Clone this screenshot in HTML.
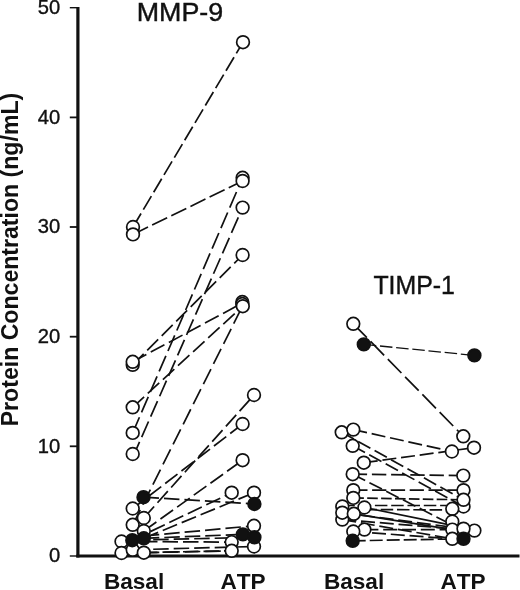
<!DOCTYPE html>
<html><head><meta charset="utf-8"><title>MMP-9 and TIMP-1 protein concentration</title>
<style>
html,body{margin:0;padding:0;background:#fff;}
body{width:520px;height:590px;overflow:hidden;}
svg{display:block;}
text{font-family:"Liberation Sans",Arial,Helvetica,sans-serif;fill:#111;}
</style></head><body>
<svg width="520" height="590" viewBox="0 0 520 590">
<rect width="520" height="590" fill="#fff"/>
<line x1="77.9" y1="7" x2="77.9" y2="557.4" stroke="#111" stroke-width="3.2"/>
<line x1="76.3" y1="556" x2="519.5" y2="556" stroke="#111" stroke-width="2.9"/>
<line x1="69.8" y1="7.7" x2="77" y2="7.7" stroke="#111" stroke-width="1.4"/>
<text x="60.2" y="13.9" text-anchor="end" font-size="20.2" stroke="#111" stroke-width="0.35">50</text>
<line x1="69.8" y1="117.4" x2="77" y2="117.4" stroke="#111" stroke-width="1.8"/>
<text x="60.2" y="123.6" text-anchor="end" font-size="20.2" stroke="#111" stroke-width="0.35">40</text>
<line x1="69.8" y1="227.0" x2="77" y2="227.0" stroke="#111" stroke-width="1.8"/>
<text x="60.2" y="233.2" text-anchor="end" font-size="20.2" stroke="#111" stroke-width="0.35">30</text>
<line x1="69.8" y1="336.7" x2="77" y2="336.7" stroke="#111" stroke-width="1.8"/>
<text x="60.2" y="342.9" text-anchor="end" font-size="20.2" stroke="#111" stroke-width="0.35">20</text>
<line x1="69.8" y1="446.3" x2="77" y2="446.3" stroke="#111" stroke-width="1.8"/>
<text x="60.2" y="452.5" text-anchor="end" font-size="20.2" stroke="#111" stroke-width="0.35">10</text>
<line x1="69.8" y1="556.0" x2="77" y2="556.0" stroke="#111" stroke-width="1.4"/>
<text x="60.2" y="562.2" text-anchor="end" font-size="20.2" stroke="#111" stroke-width="0.35">0</text>

<text x="180" y="21.2" text-anchor="middle" font-size="25" stroke="#111" stroke-width="0.4" textLength="86.5" lengthAdjust="spacingAndGlyphs">MMP-9</text>
<text x="414.2" y="293.8" text-anchor="middle" font-size="25" stroke="#111" stroke-width="0.4" textLength="81.5" lengthAdjust="spacingAndGlyphs">TIMP-1</text>
<text transform="translate(18.1,426.3) rotate(-90) scale(1,1.045)" font-size="22.9" font-weight="bold" textLength="333.5" lengthAdjust="spacingAndGlyphs">Protein Concentration (ng/mL)</text>
<g font-size="22.6" font-weight="bold" style="font-kerning:none">
<text x="103.9" y="589">Basal</text>
<text x="220.5" y="589">ATP</text>
<text x="323.9" y="589">Basal</text>
<text x="440.5" y="589">ATP</text>
</g>
<g stroke="#111" stroke-width="1.7" stroke-dasharray="15.5 5" fill="none">
<line x1="133" y1="227" x2="243" y2="42.2" stroke-dasharray="15.7 4.5"/>
<line x1="133" y1="234.4" x2="242.6" y2="181" stroke-dasharray="16.7 4.6"/>
<line x1="132.7" y1="432.9" x2="242.6" y2="177.8" stroke-dasharray="17 5.3"/>
<line x1="132.7" y1="457.5" x2="242.6" y2="207.6" stroke-dasharray="17 5.3"/>
<line x1="132.7" y1="364.8" x2="242.6" y2="255"/>
<line x1="132.7" y1="361.8" x2="242.3" y2="303.1"/>
<line x1="132.7" y1="407.3" x2="242.8" y2="306.2"/>
<line x1="132.7" y1="524.8" x2="242.6" y2="306" stroke-dasharray="16.8 5.7"/>
<line x1="132.7" y1="508.5" x2="242.6" y2="424"/>
<line x1="143.8" y1="518" x2="254" y2="395"/>
<line x1="143.5" y1="497.2" x2="254.4" y2="504"/>
<line x1="143.8" y1="531" x2="242.6" y2="460.2"/>
<line x1="132.3" y1="540.2" x2="231.7" y2="492.7"/>
<line x1="143.8" y1="538.3" x2="254" y2="492.7"/>
<line x1="143.8" y1="536" x2="254" y2="525.8"/>
<line x1="143.8" y1="538.3" x2="242.9" y2="534.4"/>
<line x1="132.7" y1="540.2" x2="254.4" y2="537.3"/>
<line x1="121.5" y1="541.5" x2="231.7" y2="542.1"/>
<line x1="132.7" y1="549.8" x2="254" y2="546.5"/>
<line x1="121.5" y1="553" x2="231.7" y2="550.8"/>
<line x1="143.8" y1="552.7" x2="231.7" y2="550.8"/>
<line x1="353.3" y1="323.8" x2="463.3" y2="436.3" stroke-dasharray="19.4 5.3"/>
<line x1="363.8" y1="344.4" x2="474.4" y2="355.4" stroke-dasharray="12.5 3.75" stroke-width="1.3"/>
<line x1="353.3" y1="429.6" x2="451.9" y2="451.5" stroke-dasharray="14 4.8"/>
<line x1="363.8" y1="462.7" x2="474" y2="447.7" stroke-dasharray="14 4.8"/>
<line x1="341.7" y1="432.3" x2="463.5" y2="499.8" stroke-dasharray="14 4.8"/>
<line x1="352.7" y1="445.8" x2="463.5" y2="506.5" stroke-dasharray="14 4.8"/>
<line x1="352.7" y1="474.2" x2="463.3" y2="475.6" stroke-dasharray="14.4 4.8"/>
<line x1="353.3" y1="490.2" x2="463.5" y2="490.2" stroke-dasharray="14.2 4.6"/>
<line x1="353.3" y1="497.9" x2="463.5" y2="499.8" stroke-dasharray="10.6 3.3"/>
<line x1="342.3" y1="505.5" x2="463.5" y2="505.5" stroke-dasharray="12.5 3.8"/>
<line x1="364.4" y1="509.6" x2="452.3" y2="509.9" stroke-dasharray="12.5 3.8"/>
<line x1="352.7" y1="474.2" x2="452.3" y2="525" stroke-dasharray="14 4.8"/>
<line x1="364.4" y1="507.5" x2="452.3" y2="525.3" stroke-dasharray="none"/>
<line x1="353.8" y1="513.8" x2="452.3" y2="529.6" stroke-dasharray="none"/>
<line x1="342.3" y1="512.7" x2="463.5" y2="528.7" stroke-dasharray="14 4.8"/>
<line x1="342.3" y1="519.6" x2="452.3" y2="538.8" stroke-dasharray="14 4.8"/>
<line x1="342.3" y1="519.6" x2="474.4" y2="530.6" stroke-dasharray="14 4.8"/>
<line x1="364.4" y1="529.6" x2="452.3" y2="529.6" stroke-dasharray="14 4.8"/>
<line x1="353.3" y1="531.5" x2="452.3" y2="538.8" stroke-dasharray="14 4.8"/>
<line x1="352.7" y1="540.8" x2="463.5" y2="538.8" stroke-dasharray="13 4"/>
</g>
<g stroke="#111" stroke-width="1.7">
<circle cx="133" cy="227" r="6.35" fill="#fff"/>
<circle cx="133" cy="234.4" r="6.35" fill="#fff"/>
<circle cx="132.7" cy="364.8" r="6.35" fill="#fff"/>
<circle cx="132.7" cy="361.8" r="6.35" fill="#fff"/>
<circle cx="132.7" cy="407.3" r="6.35" fill="#fff"/>
<circle cx="132.7" cy="432.9" r="6.35" fill="#fff"/>
<circle cx="132.7" cy="454" r="6.35" fill="#fff"/>
<circle cx="132.7" cy="508.5" r="6.35" fill="#fff"/>
<circle cx="143.8" cy="518" r="6.35" fill="#fff"/>
<circle cx="132.7" cy="524.8" r="6.35" fill="#fff"/>
<circle cx="143.8" cy="531" r="6.35" fill="#fff"/>
<circle cx="121.5" cy="541.5" r="6.35" fill="#fff"/>
<circle cx="121.5" cy="553" r="6.35" fill="#fff"/>
<circle cx="132.7" cy="549.8" r="6.35" fill="#fff"/>
<circle cx="143.8" cy="552.7" r="6.35" fill="#fff"/>
<circle cx="243" cy="42.2" r="6.35" fill="#fff"/>
<circle cx="242.6" cy="177.8" r="6.35" fill="#fff"/>
<circle cx="242.6" cy="181" r="6.35" fill="#fff"/>
<circle cx="242.6" cy="207.6" r="6.35" fill="#fff"/>
<circle cx="242.6" cy="255" r="6.35" fill="#fff"/>
<circle cx="242.3" cy="302" r="6.35" fill="#fff"/>
<circle cx="242.3" cy="304" r="6.35" fill="#fff"/>
<circle cx="242.8" cy="306.2" r="6.35" fill="#fff"/>
<circle cx="254" cy="395" r="6.35" fill="#fff"/>
<circle cx="242.6" cy="424" r="6.35" fill="#fff"/>
<circle cx="242.6" cy="460.2" r="6.35" fill="#fff"/>
<circle cx="231.7" cy="492.7" r="6.35" fill="#fff"/>
<circle cx="254" cy="492.7" r="6.35" fill="#fff"/>
<circle cx="254" cy="525.8" r="6.35" fill="#fff"/>
<circle cx="231.7" cy="542.1" r="6.35" fill="#fff"/>
<circle cx="254" cy="546.5" r="6.35" fill="#fff"/>
<circle cx="231.7" cy="550.8" r="6.35" fill="#fff"/>
<circle cx="353.3" cy="323.8" r="6.35" fill="#fff"/>
<circle cx="341.7" cy="432.3" r="6.35" fill="#fff"/>
<circle cx="353.3" cy="429.6" r="6.35" fill="#fff"/>
<circle cx="352.7" cy="445.8" r="6.35" fill="#fff"/>
<circle cx="363.8" cy="462.7" r="6.35" fill="#fff"/>
<circle cx="352.7" cy="474.2" r="6.35" fill="#fff"/>
<circle cx="353.3" cy="490.2" r="6.35" fill="#fff"/>
<circle cx="353.3" cy="497.9" r="6.35" fill="#fff"/>
<circle cx="342.3" cy="506.5" r="6.35" fill="#fff"/>
<circle cx="342.3" cy="519.6" r="6.35" fill="#fff"/>
<circle cx="342.3" cy="512.7" r="6.35" fill="#fff"/>
<circle cx="364.4" cy="507.5" r="6.35" fill="#fff"/>
<circle cx="353.8" cy="513.8" r="6.35" fill="#fff"/>
<circle cx="364.4" cy="529.6" r="6.35" fill="#fff"/>
<circle cx="353.3" cy="531.5" r="6.35" fill="#fff"/>
<circle cx="463.3" cy="436.3" r="6.35" fill="#fff"/>
<circle cx="474" cy="447.7" r="6.35" fill="#fff"/>
<circle cx="451.9" cy="451.5" r="6.35" fill="#fff"/>
<circle cx="463.3" cy="475.6" r="6.35" fill="#fff"/>
<circle cx="463.5" cy="490.2" r="6.35" fill="#fff"/>
<circle cx="463.5" cy="506.5" r="6.35" fill="#fff"/>
<circle cx="463.5" cy="499.8" r="6.35" fill="#fff"/>
<circle cx="452.3" cy="508.8" r="6.35" fill="#fff"/>
<circle cx="452.3" cy="521.5" r="6.35" fill="#fff"/>
<circle cx="452.3" cy="529.6" r="6.35" fill="#fff"/>
<circle cx="474.4" cy="530.6" r="6.35" fill="#fff"/>
<circle cx="463.5" cy="528.7" r="6.35" fill="#fff"/>
<circle cx="452.3" cy="538.8" r="6.35" fill="#fff"/>
<circle cx="143.5" cy="497.2" r="6.35" fill="#111"/>
<circle cx="132.3" cy="540.2" r="6.35" fill="#111"/>
<circle cx="143.8" cy="538.3" r="6.35" fill="#111"/>
<circle cx="254.4" cy="504" r="6.35" fill="#111"/>
<circle cx="242.9" cy="534.4" r="6.35" fill="#111"/>
<circle cx="254.4" cy="537.3" r="6.35" fill="#111"/>
<circle cx="363.8" cy="344.4" r="6.35" fill="#111"/>
<circle cx="352.7" cy="540.8" r="6.35" fill="#111"/>
<circle cx="474.4" cy="355.4" r="6.35" fill="#111"/>
<circle cx="463.5" cy="538.8" r="6.35" fill="#111"/>
</g>
</svg>
</body></html>
